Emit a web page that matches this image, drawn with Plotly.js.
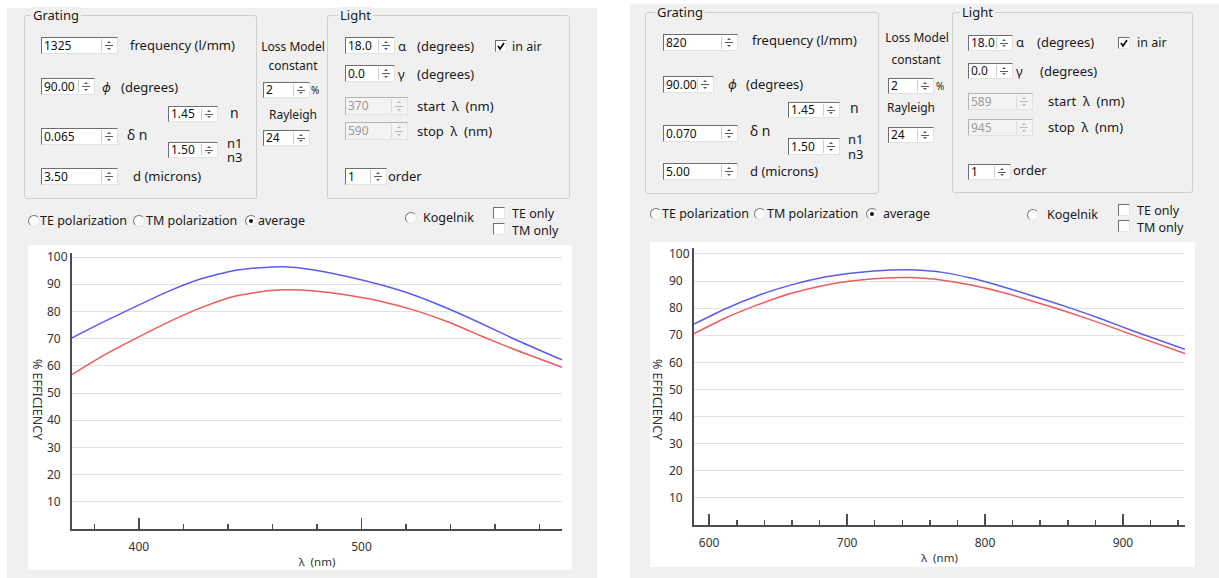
<!DOCTYPE html>
<html>
<head>
<meta charset="utf-8">
<script src="https://cdn.plot.ly/plotly-3.0.1.min.js"></script>
<style>
  html, body { margin:0; padding:0; background:#ffffff; }
  body { width:1219px; height:578px; overflow:hidden; position:relative; font-family:"Noto Sans","Open Sans","DejaVu Sans",sans-serif; color:#1a1a1a; }
  .abs { position:absolute; }
</style>
</head>
<body>
<div id="ui"></div>
<div id="chartL" class="abs" style="left:28px;top:245px;width:544px;height:325px;"></div>
<div id="chartR" class="abs" style="left:650px;top:242px;width:545px;height:325px;"></div>
<script>
// ---------- chart data ----------
const leftWavelength = [370, 383, 398, 413, 428, 443, 458, 465, 473, 480, 494, 509, 524, 539, 554, 569, 590];
const leftBlue = [70.3, 75.7, 81.6, 87.3, 92.0, 95.1, 96.3, 96.4, 95.9, 95.1, 92.8, 89.7, 85.9, 81.0, 75.5, 69.7, 62.2];
const leftRed  = [56.8, 63.3, 69.8, 76.0, 81.4, 85.6, 87.6, 88.0, 87.9, 87.4, 86.0, 83.7, 80.4, 76.1, 70.9, 65.9, 59.5];

const rightWavelength = [589, 611, 635, 659, 683, 708, 732, 745, 756, 768, 789, 813, 837, 861, 885, 910, 945];
const rightBlue = [74.1, 79.6, 84.6, 88.5, 91.4, 93.2, 94.1, 94.2, 93.9, 93.3, 91.2, 87.9, 84.1, 80.2, 75.9, 71.1, 64.8];
const rightRed  = [70.6, 76.2, 81.2, 85.4, 88.4, 90.3, 91.2, 91.3, 91.0, 90.4, 88.6, 85.8, 82.2, 78.4, 74.2, 69.6, 63.3];

const yTickVals = [10, 20, 30, 40, 50, 60, 70, 80, 90, 100];
const yTickText = ['10\u2007', '20\u2007', '30\u2007', '40\u2007', '50\u2007', '60\u2007', '70\u2007', '80\u2007', '90\u2007', '100'];
const xTitle = 'λ  (nm)';
const yTitle = '% EFFICIENCY';

// ---------- UI helpers ----------
const ui = document.getElementById('ui');
function el(css, text) {
  const d = document.createElement('div');
  d.style.cssText = 'position:absolute;' + css;
  if (text != null) d.textContent = text;
  ui.appendChild(d);
  return d;
}
function label(x, cy, text, size, opts) {
  size = size || 13; opts = opts || {};
  const lh = opts.lh || Math.round(size * 1.15);
  const lines = text.split('\n').length;
  const css = `left:${x}px;top:${cy - lh / 2}px;font-size:${size}px;line-height:${lh}px;white-space:pre;color:${opts.color || '#1a1a1a'};` +
    (opts.center ? 'transform:translateX(-50%);' : '') + (opts.italic ? 'font-style:italic;' : '');
  return el(css, text);
}
function panel(x1, y1, x2, y2) {
  el(`left:${x1}px;top:${y1}px;width:${x2 - x1}px;height:${y2 - y1}px;background:#f0f0f0;`);
}
function group(x1, y1, x2, y2, title, tx) {
  el(`left:${x1}px;top:${y1}px;width:${x2 - x1}px;height:${y2 - y1}px;box-sizing:border-box;border:1px solid #cfcfcf;border-radius:3px;`);
  el(`left:${tx - 2}px;top:${y1 - 8}px;padding:0 2px;background:#f0f0f0;font-size:13px;line-height:17px;color:#1a1a1a;`, title);
}
function spin(x, y, w, h, val, disabled) {
  const f = el(`left:${x}px;top:${y}px;width:${w}px;height:${h}px;box-sizing:border-box;background:${disabled ? '#f3f3f3' : '#ffffff'};` +
    `border-top:1px solid ${disabled ? '#b4b4b4' : '#6e6e6e'};border-left:1px solid ${disabled ? '#b4b4b4' : '#6e6e6e'};` +
    `border-right:1px solid #e2e2e2;border-bottom:1px solid #e2e2e2;`);
  const t = document.createElement('div');
  t.style.cssText = `position:absolute;left:2px;top:0;font-size:12px;line-height:${h - 2}px;color:${disabled ? '#9b9b9b' : '#111'};`;
  t.textContent = val;
  f.appendChild(t);
  const s = document.createElement('div');
  const c = disabled ? '#b8b8b8' : '#5a5a5a';
  s.style.cssText = `position:absolute;right:1px;top:1px;width:14px;height:${h - 4}px;border-left:1px solid ${disabled ? '#dddddd' : '#cfcfcf'};`;
  s.innerHTML =
    `<div style="position:absolute;left:3px;right:3px;top:${Math.floor((h - 4) / 2)}px;height:1px;background:${c};"></div>` +
    `<div style="position:absolute;left:5px;top:2px;width:0;height:0;border-left:2px solid transparent;border-right:2px solid transparent;border-bottom:2px solid ${c};"></div>` +
    `<div style="position:absolute;left:5px;bottom:2px;width:0;height:0;border-left:2px solid transparent;border-right:2px solid transparent;border-top:2px solid ${c};"></div>`;
  f.appendChild(s);
}
function radio(cx, cy, selected) {
  el(`left:${cx - 6}px;top:${cy - 6}px;width:12px;height:12px;box-sizing:border-box;border-radius:50%;border:1px solid;` +
    `border-color:#7a7a7a #e6e6e6 #e6e6e6 #7a7a7a;background:#fbfbfb;`);
  if (selected) el(`left:${cx - 2}px;top:${cy - 2}px;width:4px;height:4px;border-radius:50%;background:#111;`);
}
function check(x, y, checked) {
  const b = el(`left:${x}px;top:${y}px;width:12px;height:12px;box-sizing:border-box;border:1px solid;` +
    `border-color:#6e6e6e #e6e6e6 #e6e6e6 #6e6e6e;background:#ffffff;`);
  if (checked) b.innerHTML = '<svg width="10" height="10" style="position:absolute;left:0;top:0"><polyline points="2,5 4,8 8,2" fill="none" stroke="#111" stroke-width="1.8"/></svg>';
}

// ---------- Panels ----------
panel(7, 8, 597, 578);
panel(630, 4, 1219, 578);

const S = 12.5; // small label size

// ---------- Left panel controls ----------
group(24, 15, 257, 199, 'Grating', 33);
spin(41, 37, 77, 17, '1325');      label(130, 45, 'frequency (l/mm)');
spin(41, 78, 54, 17, '90.00');     label(102, 87, 'ϕ', 13, {italic:true}); label(121, 87, '(degrees)');
spin(168, 106, 50, 16, '1.45');    label(230, 113, 'n', 14);
spin(41, 128, 77, 17, '0.065');    label(127, 135, 'δ n', 14);
spin(168, 142, 50, 16, '1.50');    label(227, 143, 'n1\nn3', 13, {lh:14});
spin(41, 168, 77, 17, '3.50');     label(133, 176, 'd (microns)');
label(293, 47, 'Loss Model', 12, {center:true});
label(293, 66, 'constant', 12, {center:true});
spin(263, 82, 47, 16, '2');        label(311, 90, '%', 10);
label(293, 115, 'Rayleigh', 12, {center:true});
spin(263, 130, 47, 16, '24');

group(327, 15, 570, 199, 'Light', 340);
spin(345, 37, 50, 17, '18.0');     label(398, 46, 'α'); label(417, 46, '(degrees)');
check(495, 40, true);              label(512, 47, 'in air', S);
spin(345, 65, 50, 17, '0.0');      label(398, 74, 'γ'); label(417, 74, '(degrees)');
spin(345, 97, 63, 18, '370', true); label(417, 106, 'start  λ  (nm)');
spin(345, 122, 63, 18, '590', true); label(417, 131, 'stop  λ  (nm)');
spin(345, 168, 42, 17, '1');       label(388, 176, 'order');

radio(34, 221, false);  label(40, 221, 'TE polarization', S);
radio(139, 221, false); label(146, 221, 'TM polarization', S);
radio(251, 221, true);  label(258, 221, 'average', S);
radio(411, 218, false); label(423, 218, 'Kogelnik', S);
check(493, 207, false); check(493, 223, false);
label(512, 213, 'TE only\nTM only', S, {lh:17});

// ---------- Right panel controls ----------
group(645, 12, 879, 194, 'Grating', 657);
spin(663, 34, 75, 17, '820');      label(752, 40, 'frequency (l/mm)');
spin(663, 76, 51, 17, '90.00');    label(728, 84, 'ϕ', 13, {italic:true}); label(746, 84, '(degrees)');
spin(788, 102, 52, 16, '1.45');    label(850, 108, 'n', 14);
spin(663, 125, 75, 17, '0.070');   label(750, 131, 'δ n', 14);
spin(788, 138, 52, 17, '1.50');    label(848, 139, 'n1\nn3', 13, {lh:15});
spin(663, 163, 75, 17, '5.00');    label(750, 171, 'd (microns)');
label(917, 38, 'Loss Model', 12, {center:true});
label(916, 60, 'constant', 12, {center:true});
spin(888, 78, 46, 16, '2');        label(936, 86, '%', 10);
label(911, 108, 'Rayleigh', 12, {center:true});
spin(888, 127, 46, 16, '24');

group(952, 12, 1193, 193, 'Light', 962);
spin(968, 35, 45, 16, '18.0');     label(1016, 42, 'α'); label(1037, 42, '(degrees)');
check(1118, 37, true);             label(1137, 43, 'in air', S);
spin(968, 63, 45, 16, '0.0');      label(1016, 71, 'γ'); label(1040, 71, '(degrees)');
spin(968, 93, 65, 17, '589', true); label(1048, 101, 'start  λ  (nm)');
spin(968, 119, 65, 17, '945', true); label(1048, 127, 'stop  λ  (nm)');
spin(968, 164, 43, 16, '1');       label(1013, 170, 'order');

radio(656, 214, false);  label(662, 214, 'TE polarization', S);
radio(760, 214, false);  label(767, 214, 'TM polarization', S);
radio(872, 214, true);   label(883, 214, 'average', S);
radio(1033, 215, false); label(1047, 215, 'Kogelnik', S);
check(1118, 204, false); check(1118, 220, false);
label(1137, 210, 'TE only\nTM only', S, {lh:17});

// ---------- Charts ----------
const axisColor = '#4d4d4d';
const tickFont = {family:'"Noto Sans","Open Sans",sans-serif', size:12, color:'#333333'};

function makeChart(id, xs, blue, red, xRange, yMax, margin, yTitleX, yTitleY) {
  const traces = [
    {x: xs, y: blue, type:'scatter', mode:'lines', name:'TE', line:{color:'#5b5bee', width:1.5, shape:'spline', smoothing:0.5}},
    {x: xs, y: red,  type:'scatter', mode:'lines', name:'TM', line:{color:'#ee5b5b', width:1.5, shape:'spline', smoothing:0.5}}
  ];
  const layout = {
    width: parseInt(document.getElementById(id).style.width),
    height: parseInt(document.getElementById(id).style.height),
    margin: margin,
    paper_bgcolor:'#ffffff', plot_bgcolor:'#ffffff',
    showlegend:false,
    font: tickFont,
    xaxis: {
      range: xRange, autorange:false, fixedrange:true,
      tickmode:'linear', tick0:0, dtick:100,
      ticks:'inside', ticklen:11, tickwidth:1.5, tickcolor:axisColor,
      minor:{tickmode:'linear', tick0:0, dtick:20, ticks:'inside', ticklen:5, tickwidth:1.5, tickcolor:axisColor, showgrid:false},
      showline:true, linecolor:axisColor, linewidth:2,
      showgrid:false, zeroline:false,
      tickfont: tickFont, ticklabelstandoff:6,
      title:{text:xTitle, font:{size:11.5, color:'#333333'}, standoff:4},
      automargin:false
    },
    yaxis: {
      range:[0, yMax], autorange:false, fixedrange:true,
      tickmode:'array', tickvals:yTickVals, ticktext:yTickText,
      ticks:'', showline:true, linecolor:axisColor, linewidth:2,
      showgrid:true, gridcolor:'#e2e2e2', gridwidth:1, zeroline:false,
      tickfont: tickFont, ticklabelstandoff:0,
      automargin:false
    },
    annotations: [{
      text: yTitle, textangle:90, xref:'paper', yref:'paper', x:yTitleX, y:yTitleY,
      xanchor:'center', yanchor:'middle', showarrow:false,
      font:{size:12.5, color:'#333333'}
    }]
  };
  Plotly.newPlot(id, traces, layout, {displayModeBar:false, staticPlot:true});
}

makeChart('chartL', leftWavelength, leftBlue, leftRed, [370, 590], 101.5, {l:44, r:10, t:8, b:41}, -0.069, 0.467);
makeChart('chartR', rightWavelength, rightBlue, rightRed, [589, 945], 102.2, {l:44, r:10, t:6, b:42}, -0.073, 0.451);
</script>
</body>
</html>
